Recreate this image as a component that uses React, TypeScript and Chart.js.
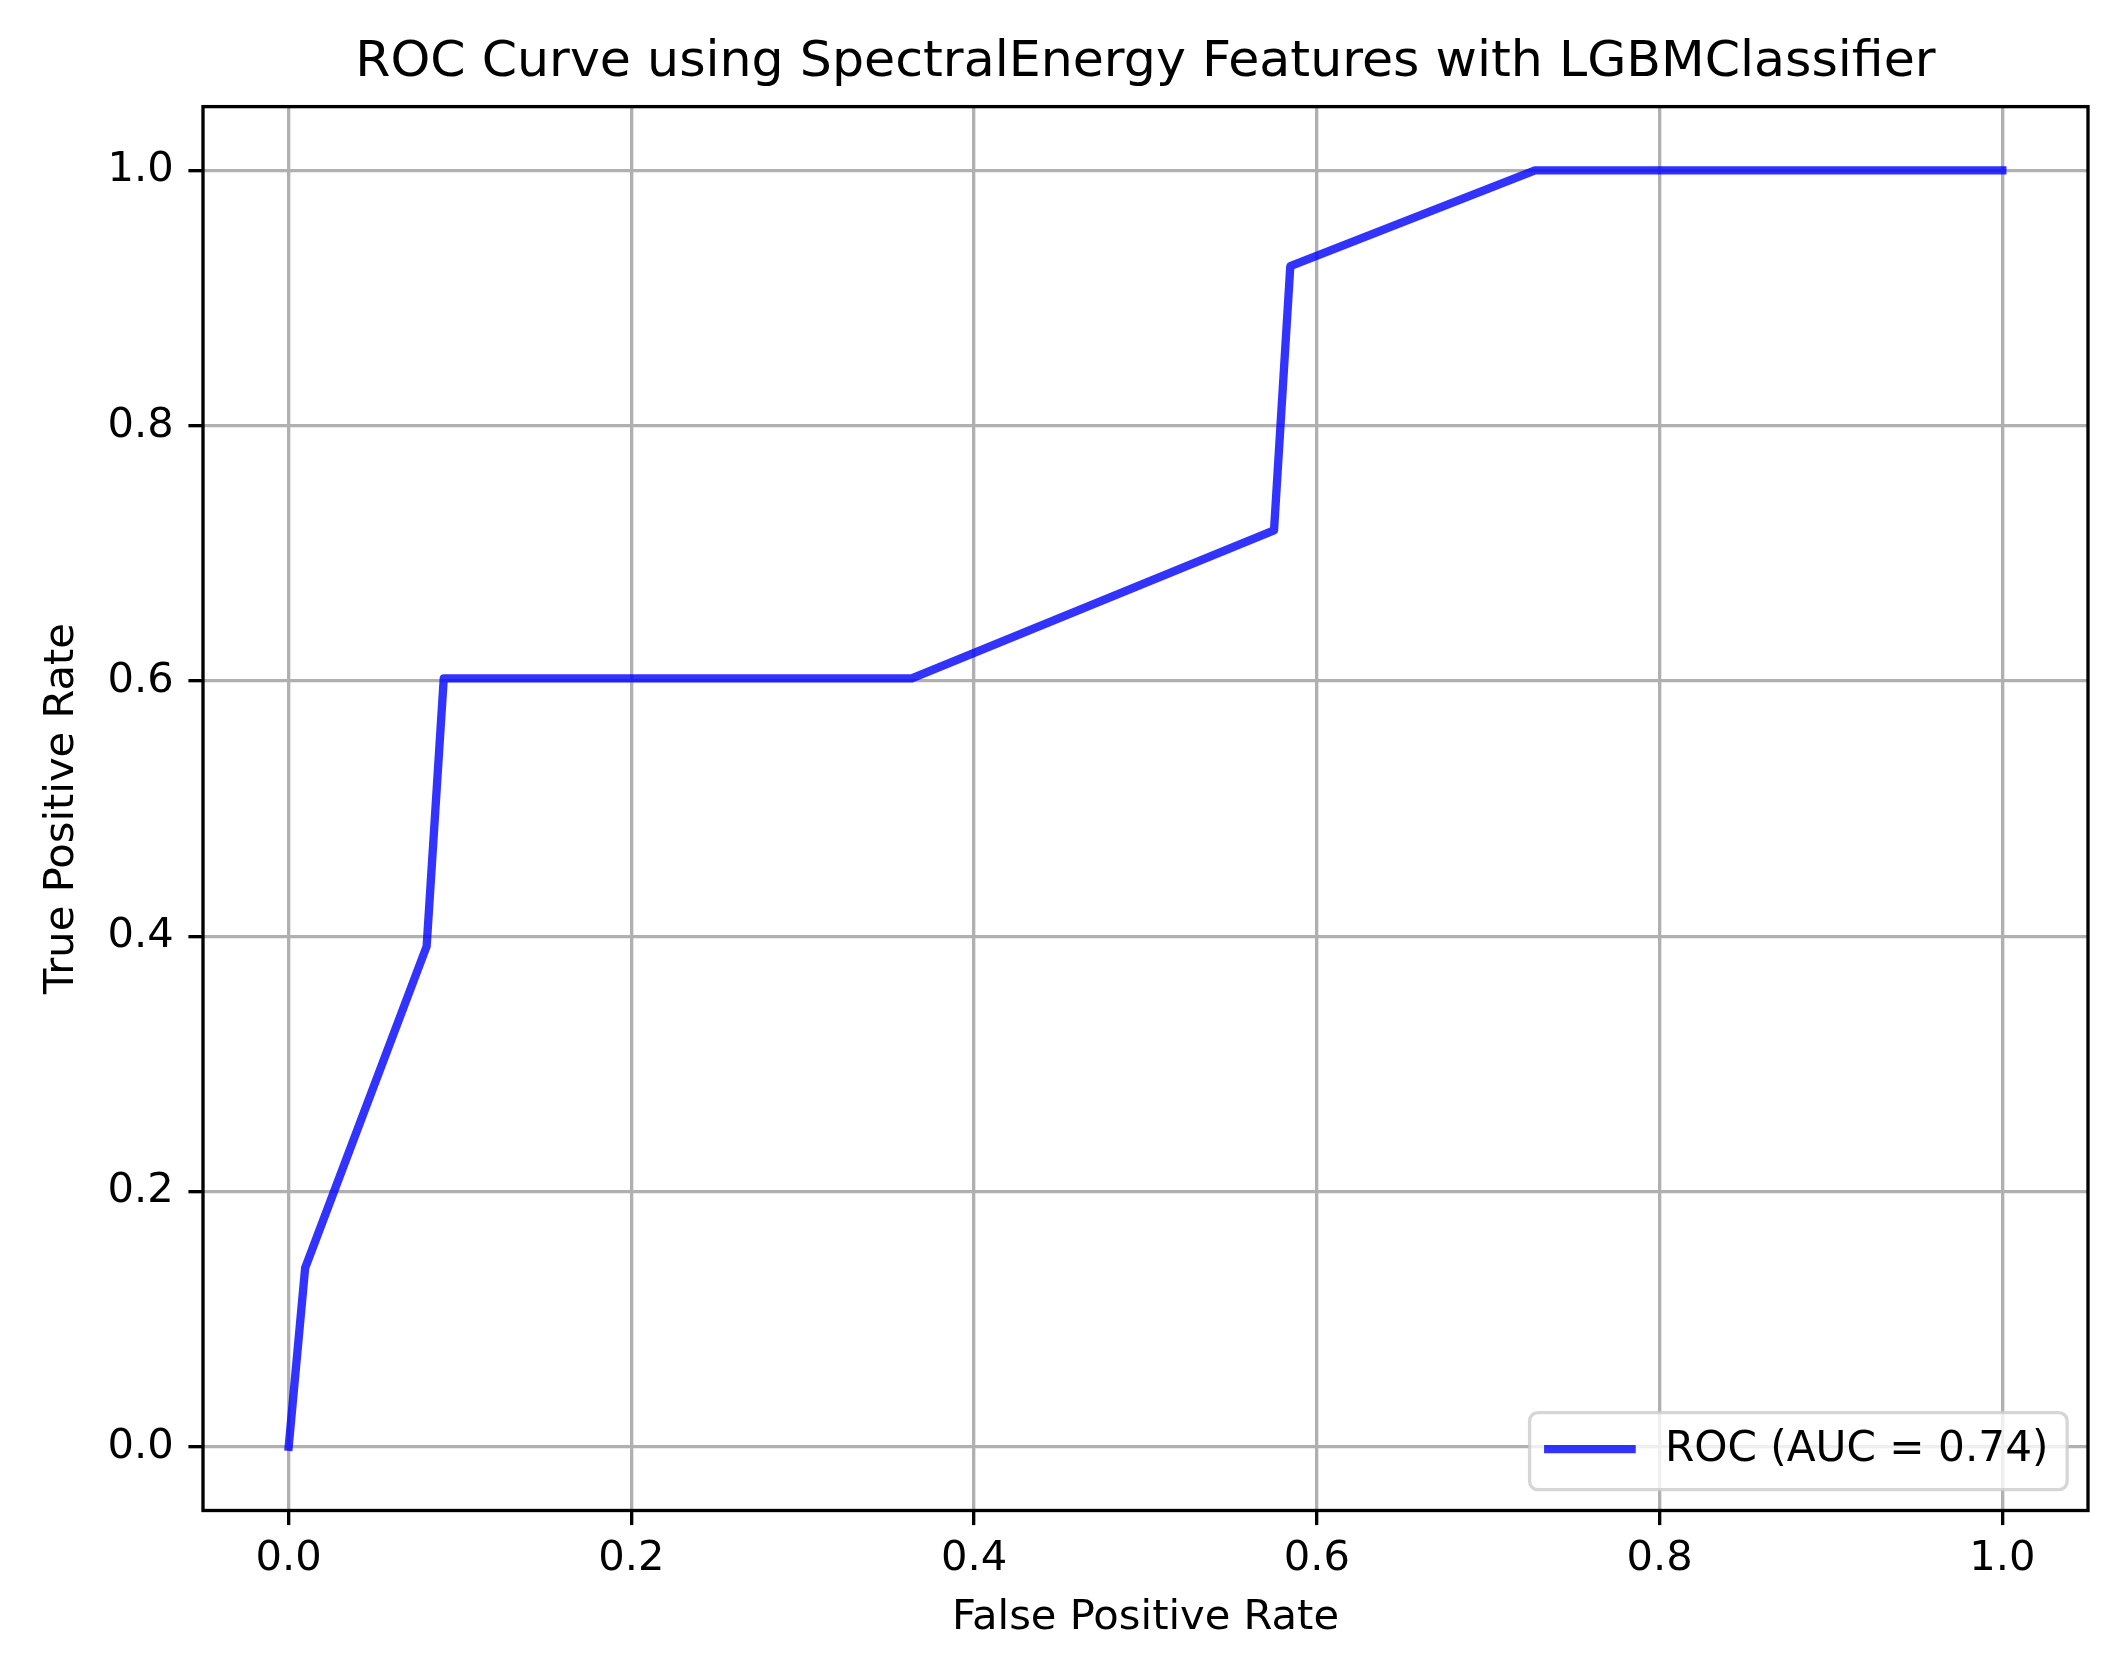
import React, { useEffect, useRef } from "react";
import { Chart, registerables } from "chart.js";

Chart.register(...registerables);

// ---- data ----
const fprValues = [0, 0.0096, 0.0805, 0.0905, 0.3636, 0.575, 0.5845, 0.7273, 1.0];
const tprValues = [0, 0.14, 0.392, 0.602, 0.602, 0.718, 0.925, 1.0, 1.0];
const xTickValues = [0, 0.2, 0.4, 0.6, 0.8, 1.0];
const yTickValues = [0, 0.2, 0.4, 0.6, 0.8, 1.0];
const seriesLabel = "ROC (AUC = 0.74)";
const chartTitle = "ROC Curve using SpectralEnergy Features with LGBMClassifier";
const xAxisLabel = "False Positive Rate";
const yAxisLabel = "True Positive Rate";

// ---- styling ----
const W = 2108;
const H = 1654;
const PT = 300 / 72; // pixels per point (300 dpi figure)
const FONT = "'DejaVu Sans', 'Liberation Sans', sans-serif";
const TICK_SIZE = 10 * PT;
const TITLE_SIZE = 50.6;
const LEGEND_SIZE = 42.2;

const framePlugin = {
  id: "frame",
  afterDatasetsDraw(chart: any) {
    const { ctx, chartArea } = chart;
    ctx.save();
    ctx.strokeStyle = "#000000";
    ctx.lineWidth = 0.8 * PT;
    ctx.lineJoin = "miter";
    ctx.strokeRect(
      chartArea.left,
      chartArea.top,
      chartArea.right - chartArea.left,
      chartArea.bottom - chartArea.top
    );
    ctx.restore();
  },
};

const legendPlugin = {
  id: "mplLegend",
  afterDraw(chart: any) {
    const { ctx, chartArea } = chart;
    const ds = chart.data.datasets[0];
    const fs = TICK_SIZE;
    ctx.save();
    ctx.font = `${LEGEND_SIZE}px ${FONT}`;
    const textW = ctx.measureText(ds.label).width;
    const borderPad = 0.4 * fs;
    const handleLen = 2.0 * fs;
    const handlePad = 0.8 * fs;
    const axPad = 0.5 * fs;
    const boxW = borderPad * 2 + handleLen + handlePad + textW + 4;
    const boxH = borderPad * 2 + fs * 1.05;
    const right = chartArea.right - axPad;
    const bottom = chartArea.bottom - axPad;
    const left = right - boxW;
    const top = bottom - boxH;
    const r = 0.2 * fs;
    ctx.beginPath();
    ctx.moveTo(left + r, top);
    ctx.lineTo(right - r, top);
    ctx.arcTo(right, top, right, top + r, r);
    ctx.lineTo(right, bottom - r);
    ctx.arcTo(right, bottom, right - r, bottom, r);
    ctx.lineTo(left + r, bottom);
    ctx.arcTo(left, bottom, left, bottom - r, r);
    ctx.lineTo(left, top + r);
    ctx.arcTo(left, top, left + r, top, r);
    ctx.closePath();
    ctx.fillStyle = "rgba(255,255,255,0.8)";
    ctx.fill();
    ctx.strokeStyle = "rgba(204,204,204,0.8)";
    ctx.lineWidth = 0.8 * PT;
    ctx.stroke();

    const cy = (top + bottom) / 2 - 2;
    const hx = left + borderPad + 2;
    ctx.beginPath();
    ctx.moveTo(hx, cy);
    ctx.lineTo(hx + handleLen, cy);
    ctx.strokeStyle = ds.borderColor;
    ctx.lineWidth = ds.borderWidth;
    ctx.lineCap = "square";
    ctx.stroke();

    ctx.fillStyle = "#000000";
    ctx.textAlign = "left";
    ctx.textBaseline = "middle";
    ctx.fillText(ds.label, hx + handleLen + handlePad, cy + 1);
    ctx.restore();
  },
};

export default function App() {
  const canvasRef = useRef<HTMLCanvasElement | null>(null);

  useEffect(() => {
    document.body.style.margin = "0";
    const canvas = canvasRef.current;
    if (!canvas) return;

    const points = fprValues.map((x, i) => ({ x, y: tprValues[i] }));

    const chart = new Chart(canvas, {
      type: "line",
      data: {
        datasets: [
          {
            label: seriesLabel,
            data: points,
            borderColor: "rgba(0,0,255,0.8)",
            backgroundColor: "rgba(0,0,255,0.8)",
            borderWidth: 2 * PT,
            pointRadius: 0,
            pointHoverRadius: 0,
            tension: 0,
            fill: false,
            borderCapStyle: "square",
            borderJoinStyle: "round",
          } as any,
        ],
      },
      options: {
        responsive: false,
        animation: false,
        devicePixelRatio: 1,
        events: [],
        layout: { padding: { left: 0, right: 20, top: 0, bottom: 0 } },
        plugins: {
          legend: { display: false },
          tooltip: { enabled: false },
          title: {
            display: true,
            text: chartTitle,
            color: "#000000",
            fullSize: false,
            font: { family: FONT, size: TITLE_SIZE, weight: "normal", lineHeight: 1.2 },
            padding: { top: 32.6, bottom: 13.3 },
          },
        },
        scales: {
          x: {
            type: "linear",
            min: -0.05,
            max: 1.05,
            afterBuildTicks: (axis: any) => {
              axis.ticks = xTickValues.map((v) => ({ value: v }));
            },
            afterFit: (axis: any) => {
              axis.height = 143.5;
            },
            ticks: {
              color: "#000000",
              font: { family: FONT, size: TICK_SIZE, lineHeight: 1.2 },
              padding: 8.6,
              maxRotation: 0,
              autoSkip: false,
              callback: (v: any) => Number(v).toFixed(1),
            },
            grid: {
              color: "#b0b0b0",
              lineWidth: 0.8 * PT,
              tickColor: "#000000",
              tickWidth: 0.8 * PT,
              tickLength: 3.5 * PT,
              drawTicks: true,
            },
            border: { display: false },
            title: {
              display: true,
              text: xAxisLabel,
              color: "#000000",
              font: { family: FONT, size: TICK_SIZE, lineHeight: 1.2 },
              padding: { top: 0, bottom: 10.7 },
            },
          },
          y: {
            type: "linear",
            min: -0.05,
            max: 1.05,
            afterBuildTicks: (axis: any) => {
              axis.ticks = yTickValues.map((v) => ({ value: v }));
            },
            afterFit: (axis: any) => {
              axis.width = 203;
            },
            ticks: {
              color: "#000000",
              font: { family: FONT, size: TICK_SIZE, lineHeight: 1.2 },
              padding: 3.5 * PT,
              autoSkip: false,
              callback: (v: any) => Number(v).toFixed(1),
            },
            grid: {
              color: "#b0b0b0",
              lineWidth: 0.8 * PT,
              tickColor: "#000000",
              tickWidth: 0.8 * PT,
              tickLength: 3.5 * PT,
              drawTicks: true,
            },
            border: { display: false },
            title: {
              display: true,
              text: yAxisLabel,
              color: "#000000",
              font: { family: FONT, size: TICK_SIZE, lineHeight: 1.2 },
              padding: { top: 37.3, bottom: 0 },
            },
          },
        },
      },
      plugins: [framePlugin, legendPlugin],
    });

    return () => {
      chart.destroy();
    };
  }, []);

  return (
    <div style={{ position: "absolute", left: 0, top: 0, width: W, height: H, background: "#ffffff" }}>
      <canvas ref={canvasRef} width={W} height={H} style={{ width: W, height: H, display: "block" }} />
    </div>
  );
}
